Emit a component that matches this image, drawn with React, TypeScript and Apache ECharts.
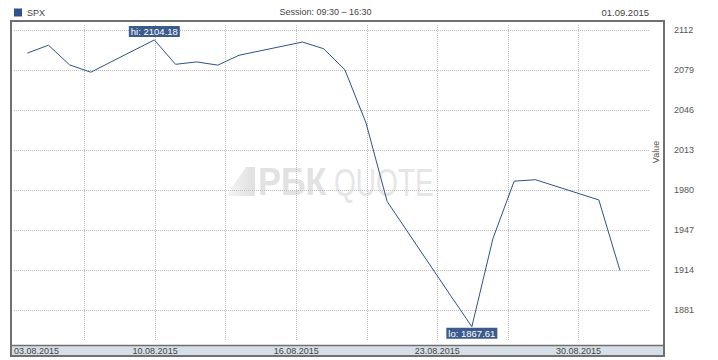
import React, { useEffect, useRef } from 'react';
import * as echarts from 'echarts';

// ---- data ----
const dates = [
  '2015-08-04', '2015-08-05', '2015-08-06', '2015-08-07',
  '2015-08-10', '2015-08-11', '2015-08-12', '2015-08-13', '2015-08-14',
  '2015-08-17', '2015-08-18', '2015-08-19', '2015-08-20', '2015-08-21',
  '2015-08-24', '2015-08-25', '2015-08-26', '2015-08-27', '2015-08-28',
  '2015-08-31', '2015-09-01',
];
const spxValues = [
  2093.32, 2099.84, 2083.56, 2077.57,
  2104.18, 2084.07, 2086.05, 2083.39, 2091.54,
  2102.44, 2096.92, 2079.61, 2035.73, 1970.89,
  1893.21, 1867.61, 1940.51, 1987.66, 1988.87,
  1972.18, 1913.85,
];
const yTicks = [1881, 1914, 1947, 1980, 2013, 2046, 2079, 2112];
const xLabels = ['03.08.2015', '10.08.2015', '16.08.2015', '23.08.2015', '30.08.2015'];
const headerSession = 'Session: 09:30 – 16:30';
const headerDate = '01.09.2015';
const seriesName = 'SPX';

// axis ranges (day-of-August numbers; Sep 1 = 32)
const xMin = 3.37;
const xSpan = 30;
const xDivisions = 9;
const yMin = 1855.8;
const yMax = 2116.5;

const FF = "'Liberation Sans', Arial, sans-serif";

function dayNum(s: string): number {
  const [y, m, d] = s.split('-').map(Number);
  return (Date.UTC(y, m - 1, d) - Date.UTC(2015, 7, 0)) / 86400000;
}

export default function App() {
  const ref = useRef<HTMLDivElement>(null);
  useEffect(() => {
    if (!ref.current) return;
    const chart = echarts.init(ref.current, undefined, { renderer: 'svg' });
    const step = xSpan / xDivisions;
    const xMax = xMin + xSpan;
    const xGridVals: number[] = [];
    for (let k = 1; k < xDivisions; k++) xGridVals.push(xMin + k * step);
    const xLabelVals = xLabels.map((_, i) => xMin + i * 2 * step);
    const data = dates.map((d, i) => [dayNum(d), spxValues[i]]);
    const gridLine = { show: true, lineStyle: { type: [1, 1] as any, color: '#bdbdbd', width: 1 } };

    chart.setOption({
      animation: false,
      backgroundColor: '#ffffff',
      textStyle: { fontFamily: FF },
      legend: {
        data: [seriesName],
        left: 14,
        top: 8,
        padding: 0,
        icon: 'rect',
        itemWidth: 8,
        itemHeight: 8,
        textStyle: { fontSize: 9, color: '#444', fontFamily: FF },
      },
      grid: { left: 14, right: 69, top: 25, bottom: 19, containLabel: false },
      xAxis: {
        type: 'value',
        min: xMin,
        max: xMax,
        axisLine: { show: false },
        axisTick: { show: false, customValues: xGridVals },
        splitLine: gridLine,
        axisLabel: {
          customValues: xLabelVals,
          margin: 5,
          fontSize: 9,
          color: '#444',
          fontFamily: FF,
          alignMinLabel: 'left',
          formatter: (v: number) => {
            const k = Math.round((v - xMin) / step);
            return xLabels[k / 2] ?? '';
          },
        },
      },
      yAxis: {
        type: 'value',
        position: 'right',
        min: yMin,
        max: yMax,
        axisLine: { show: false },
        axisTick: { show: false, customValues: yTicks },
        splitLine: gridLine,
        axisLabel: {
          customValues: yTicks,
          margin: 25,
          fontSize: 9,
          color: '#555',
          fontFamily: FF,
          formatter: (v: number) => String(Math.round(v)),
        },
      },
      series: [
        {
          name: seriesName,
          type: 'line',
          data,
          symbol: 'none',
          color: '#2e5289',
          lineStyle: { width: 1, color: '#2e5289' },
          markPoint: {
            symbol: 'circle',
            symbolSize: 0,
            data: [
              {
                type: 'max',
                label: {
                  position: 'top',
                  distance: 3,
                  formatter: (p: any) => 'hi: ' + p.value,
                },
              },
              {
                type: 'min',
                label: {
                  position: 'bottom',
                  distance: 1,
                  formatter: (p: any) => 'lo: ' + p.value,
                },
              },
            ],
            label: {
              show: true,
              color: '#ffffff',
              backgroundColor: '#3a5b8b',
              fontSize: 9.5,
              lineHeight: 11,
              padding: [0, 2, 0, 2],
              fontFamily: FF,
            },
          },
        },
      ],
      graphic: [
        {
          type: 'polygon',
          z: -10,
          shape: { points: [[226, 196], [246, 167], [255, 167], [255, 196]] },
          style: {
            fill: new echarts.graphic.LinearGradient(0, 0, 1, 0, [
              { offset: 0, color: '#f5f5f5' },
              { offset: 1, color: '#e0e0e0' },
            ]),
          },
        },
        {
          type: 'text',
          z: -10,
          x: 258,
          y: 182,
          scaleX: 0.88,
          style: { text: 'РБК', fontSize: 39, fontWeight: 'bold', fontFamily: FF, fill: '#e2e2e2', verticalAlign: 'middle', align: 'left' },
        },
        {
          type: 'text',
          z: -10,
          x: 334,
          y: 182,
          scaleX: 0.72,
          style: { text: 'QUOTE', fontSize: 39, fontFamily: FF, fill: '#e6e6e6', verticalAlign: 'middle', align: 'left' },
        },
        {
          type: 'rect',
          z: -1,
          shape: { x: 10, y: 345, width: 654, height: 11 },
          style: { fill: '#d6dee7' },
        },
        {
          type: 'line',
          z: 5,
          shape: { x1: 10, y1: 345.5, x2: 664, y2: 345.5 },
          style: { stroke: '#707070', lineWidth: 1.5 },
        },
        {
          type: 'rect',
          z: 5,
          shape: { x: 11, y: 21, width: 653, height: 335 },
          style: { fill: 'none', stroke: '#707070', lineWidth: 2 },
        },
        {
          type: 'text',
          x: 325.5,
          y: 12,
          style: { text: headerSession, fontSize: 9, fontFamily: FF, fill: '#444', align: 'center', verticalAlign: 'middle' },
        },
        {
          type: 'text',
          x: 649,
          y: 12,
          style: { text: headerDate, fontSize: 9.5, fontFamily: FF, fill: '#444', align: 'right', verticalAlign: 'middle' },
        },
        {
          type: 'text',
          x: 656,
          y: 152,
          rotation: Math.PI / 2,
          style: { text: 'Value', fontSize: 9, fontFamily: FF, fill: '#555', align: 'center', verticalAlign: 'middle' },
        },
      ],
    });
    return () => chart.dispose();
  }, []);
  return (
    <div
      ref={ref}
      style={{ position: 'fixed', left: 0, top: 0, width: 718, height: 360, background: '#fff' }}
    />
  );
}
